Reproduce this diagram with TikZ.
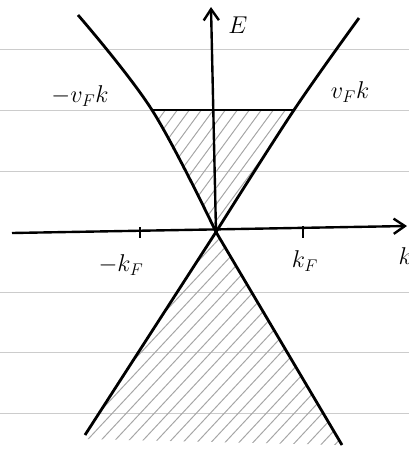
\documentclass[tikz,border=0pt]{standalone}
\usepackage{tikz}
\usetikzlibrary{arrows.meta}

\begin{document}
\begin{tikzpicture}[
    x=0.025cm,
    y=-0.025cm,
    axis/.style={line width=1.7pt, -{Straight Barb[length=2.8mm, width=3.8mm]}},
    branch/.style={line width=2pt, line join=round},
    level/.style={line width=1.7pt},
    ruling/.style={gray!40, line width=0.7pt},
    hatch/.style={gray!70, line width=0.7pt},
    lbl/.style={font=\LARGE, inner sep=1pt}
]

\useasboundingbox (0,0) rectangle (409,450);

% notebook ruling
\foreach \y in {49,110,171,292,352,413}
    \draw[ruling] (0,\y) -- (409,\y);

\coordinate (O) at (216,232);
\coordinate (ul) at (78,15);
\coordinate (ur) at (359,18);
\coordinate (ll) at (85,435);
\coordinate (lr) at (342,445);
\coordinate (fl) at (152,110);
\coordinate (fr) at (294,110);
\coordinate (kL) at (12,233);
\coordinate (kR) at (407,226);
\coordinate (Etop) at (211,7);

% filled states
\begin{scope}
    \clip (fl) -- (fr) -- (O) -- cycle;
    \foreach \c in {-300,-288,...,400}
        \draw[hatch] (\c,450) -- ++(330,-450);
\end{scope}
\begin{scope}
    \clip (O) -- (ll) -- ([yshift=-0.1cm]ll) -- (lr) -- cycle;
    \foreach \c in {-300,-286,...,400}
        \draw[hatch] (\c,450) -- ++(420,-450);
\end{scope}

% axes
\draw[axis] (kL) -- (kR);
\draw[axis] (O) -- (Etop);
\draw[level] (140,227) -- (140,238);
\draw[level] (303,226) -- (303,238);

% dispersion
\draw[branch] plot[smooth, tension=0.6] coordinates {(ul) (fl) (O)} -- (lr);
\draw[branch] plot[smooth, tension=0.6] coordinates {(ur) (fr) (O)} -- (ll);
\draw[level] (fl) -- (fr);

% labels
\node[lbl] (Elbl) at (238,25) {$E$};
\node[lbl, anchor=west] (klbl) at (397,256) {$k$};
\node[lbl] (mkF) at (121,265) {$-k_F$};
\node[lbl] (pkF) at (305,261) {$k_F$};
\node[lbl] (mvk) at (80,96) {$-v_F k$};
\node[lbl] (pvk) at (350,92) {$v_F k$};

\end{tikzpicture}
\end{document}
